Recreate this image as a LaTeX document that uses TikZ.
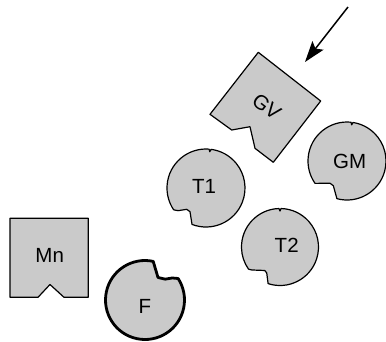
\documentclass[tikz,border=0pt]{standalone}
\usepackage{fontspec}
\setmainfont{Liberation Sans}
\usetikzlibrary{arrows.meta}
\definecolor{piecefill}{RGB}{202,202,202}
\tikzset{
  piece/.style={draw=black, fill=piecefill, line width=1.2bp, line join=round},
  heavypiece/.style={piece, line width=2.8bp},
  tag/.style={font=\fontsize{20.5bp}{22bp}\selectfont, inner sep=0pt},
  pointer/.style={line width=1.5bp, -{Stealth[length=21bp,width=14bp,inset=4bp]}},
}
% Disk with a keyed notch and a small seam tick on its rim.
% #1 style, #2 centre, #3 radius, #4 arc start, #5 arc end, #6 tick angle, #7 notch corners
\newcommand\notchdisk[7]{%
  \begin{scope}[shift={#2}, x=1bp, y=1bp]
    \draw[#1] (#4:#3) arc[start angle=#4, end angle={#6-1.5}, radius=#3]
      -- ({#6}:{#3-2.5}) -- ({#6+1.5}:#3)
      arc[start angle={#6+1.5}, end angle=#5, radius=#3]
      #7 -- cycle;
  \end{scope}}
\begin{document}
\begin{tikzpicture}[x=1bp, y=-1bp]
  \useasboundingbox (0,0) rectangle (386,342);

  % square pieces
  \draw[piece] (258.3,52.3) -- (320.7,101) -- (273.3,162.3) -- (255,148.3)
    -- (250,126.7) -- (231.7,130) -- (210,114.3) -- cycle;
  \draw[piece] (10,218.3) -- (88.3,218.3) -- (88.3,297.3) -- (64,297.3)
    -- (50,284.5) -- (38,297.3) -- (10,297.3) -- cycle;

  % round pieces
  \notchdisk{piece}{(206,188)}{39}{249}{574}{444}{-- (219:36) -- (228:28.7) -- (236:28.6)}
  \notchdisk{piece}{(280,247)}{38.5}{252}{575}{450}{-- (219:36.5) -- (237:28) -- (243:29.2)}
  \notchdisk{piece}{(347,161)}{39}{255}{575}{442.6}{-- (215:39) -- (232.7:28) -- (241:28.2)}
  \begin{scope}[shift={(145,300)}, x=1bp, y=1bp]
    \draw[heavypiece] (78:39.5) arc[start angle=78, end angle=393, radius=39.5]
      -- (39:35) -- (46:29) -- (60:26) -- cycle;
  \end{scope}

  % labels
  \node[tag, rotate=-38] (gv) at (266.7,106.7) {GV};
  \node[tag] (gm) at (349.7,161.3) {GM};
  \node[tag] (t1) at (204,186) {T1};
  \node[tag] (t2) at (286.7,245.8) {T2};
  \node[tag] (mn) at (49.7,255.5) {Mn};
  \node[tag] (f)  at (145,306.7) {F};

  % insertion arrow
  \coordinate (arrowtail) at (348,7);
  \coordinate (arrowtip) at (305,62);
  \draw[pointer] (arrowtail) -- (arrowtip);
\end{tikzpicture}
\end{document}
